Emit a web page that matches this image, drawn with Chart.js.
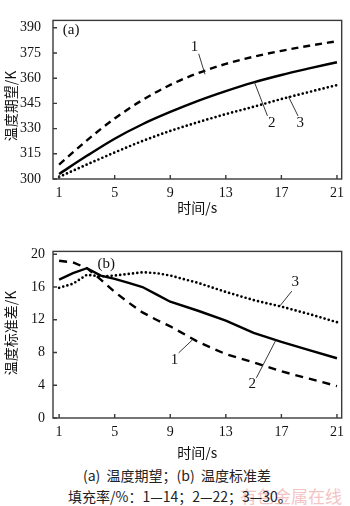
<!DOCTYPE html>
<html><head><meta charset="utf-8">
<script src="https://cdn.jsdelivr.net/npm/chart.js@4/dist/chart.umd.min.js"></script>
<style>
html,body{margin:0;padding:0;background:#fff;width:350px;height:506px;overflow:hidden;position:relative}
canvas{position:absolute;left:0}
.cap{position:absolute;left:0;width:350px;white-space:pre;font-family:"Noto Sans CJK SC",sans-serif;font-size:14px;color:#222;line-height:16px}
.wm{position:absolute;white-space:pre;font-family:"Noto Sans CJK SC",sans-serif;font-size:17px;color:#f3c4c4;line-height:18px}
</style></head>
<body>
<canvas id="ca" width="350" height="218" style="top:0;width:350px;height:218px"></canvas>
<canvas id="cb" width="350" height="225" style="top:235px;width:350px;height:225px"></canvas>
<div class="wm" style="left:240px;top:487px">有色金属在线</div>
<div class="cap" style="left:83px;top:467px;width:auto">(a)  温度期望；(b)  温度标准差</div>
<div class="cap" style="left:68px;top:488px;width:auto">填充率/%：1—14；2—22；3—30。</div>
<script>
// ---- data ----
const timeA = [1, 3, 5, 7, 9, 11, 13, 15, 17, 19, 21];
const meanFill14 = [308.6, 323.0, 336.0, 347.0, 356.0, 363.0, 368.5, 372.8, 376.3, 379.3, 382.0];
const meanFill22 = [303.0, 313.8, 324.0, 332.6, 339.9, 346.5, 352.3, 357.5, 361.9, 365.8, 369.5];
const meanFill30 = [301.2, 308.6, 315.8, 322.6, 328.6, 333.8, 338.6, 343.0, 347.6, 351.8, 355.9];

const timeB = [1, 2, 3, 4, 5, 6, 7, 8, 9, 11, 13, 15, 17, 19, 21];
const sdFill14 = [19.2, 19.0, 18.3, 16.9, 15.4, 14.1, 12.9, 12.0, 11.2, 9.3, 7.8, 6.8, 5.7, 4.8, 3.9];
const sdFill22 = [16.9, 17.7, 18.3, 17.4, 17.0, 16.5, 16.0, 15.1, 14.2, 13.1, 11.9, 10.4, 9.3, 8.3, 7.3];
const sdFill30 = [15.9, 16.4, 17.5, 17.3, 17.4, 17.6, 17.8, 17.7, 17.4, 16.5, 15.4, 14.4, 13.6, 12.7, 11.7];

const xTicks = [1, 5, 9, 13, 17, 21];
const yTicksA = [300, 315, 330, 345, 360, 375, 390];
const yTicksB = [0, 4, 8, 12, 16, 20];
const xTitle = '时间/s';
const yTitleA = '温度期望/K';
const yTitleB = '温度标准差/K';

// curve labels with leader lines (data coordinates)
const notesA = [
  {text: '1', at: [10.75, 378.5], from: [11.05, 374.5], to: [11.5, 362.3]},
  {text: '2', at: [16.3, 333.5], from: [16.0, 337.5], to: [15.05, 357.8]},
  {text: '3', at: [18.35, 333.5], from: [18.2, 337.5], to: [17.5, 349.2]},
  {text: '(a)', at: [1.86, 388.5]}
];
const notesB = [
  {text: '3', at: [18.0, 16.6], from: [17.75, 15.5], to: [16.9, 13.7]},
  {text: '1', at: [9.3, 7.1], from: [9.6, 7.95], to: [10.6, 9.55]},
  {text: '2', at: [14.9, 4.1], from: [15.2, 4.9], to: [16.6, 9.5]},
  {text: '(b)', at: [4.4, 18.8]}
];

const serif = '"Liberation Serif","DejaVu Serif",serif';
const cjk = '"Noto Sans CJK SC",sans-serif';

const framePlugin = {
  id: 'frame',
  afterDraw(chart, args, opts) {
    const {ctx, chartArea: a, scales} = chart;
    ctx.save();
    ctx.strokeStyle = '#3a3a3a';
    ctx.lineWidth = 1.4;
    ctx.strokeRect(a.left, a.top, a.right - a.left, a.bottom - a.top);
    ctx.beginPath();
    scales.x.ticks.forEach(t => {
      const px = scales.x.getPixelForValue(t.value);
      ctx.moveTo(px, a.bottom); ctx.lineTo(px, a.bottom - 4);
    });
    scales.y.ticks.forEach(t => {
      const py = scales.y.getPixelForValue(t.value);
      ctx.moveTo(a.left, py); ctx.lineTo(a.left + 4, py);
    });
    ctx.stroke();
    // notes
    ctx.fillStyle = '#111';
    ctx.strokeStyle = '#222';
    ctx.lineWidth = 0.9;
    ctx.textAlign = 'center';
    ctx.textBaseline = 'middle';
    (opts.notes || []).forEach(n => {
      ctx.font = '15px ' + serif;
      ctx.fillText(n.text, scales.x.getPixelForValue(n.at[0]), scales.y.getPixelForValue(n.at[1]));
      if (n.from) {
        ctx.beginPath();
        ctx.moveTo(scales.x.getPixelForValue(n.from[0]), scales.y.getPixelForValue(n.from[1]));
        ctx.lineTo(scales.x.getPixelForValue(n.to[0]), scales.y.getPixelForValue(n.to[1]));
        ctx.stroke();
      }
    });
    // side title
    if (opts.yTitle) {
      ctx.save();
      ctx.translate(opts.yTitleX, opts.yTitleY);
      ctx.rotate(-Math.PI / 2);
      ctx.font = '14px ' + cjk;
      ctx.fillStyle = '#111';
      ctx.fillText(opts.yTitle, 0, 0);
      ctx.restore();
    }
    ctx.restore();
  }
};

function ds(label, xs, ys, style) {
  const base = {
    label, data: xs.map((x, i) => ({x, y: ys[i]})),
    borderColor: '#000', pointRadius: 0, fill: false, borderWidth: 2.4
  };
  return Object.assign(base, style);
}

function makeChart(id, cfg) {
  return new Chart(document.getElementById(id), {
    type: 'line',
    data: {datasets: cfg.datasets},
    options: {
      responsive: false, animation: false, devicePixelRatio: 1,
      layout: {padding: {left: 0, right: 2.5, top: cfg.padTop, bottom: 0}},
      plugins: {legend: {display: false}, tooltip: {enabled: false},
        frame: {notes: cfg.notes, yTitle: cfg.yTitle, yTitleX: 11, yTitleY: cfg.yTitleY}},
      scales: {
        x: {
          type: 'linear', min: 0.56, max: 21.34,
          grid: {display: false, drawTicks: false, tickLength: 0}, border: {display: false},
          afterBuildTicks: s => { s.ticks = xTicks.map(v => ({value: v})); },
          afterFit: s => { s.height = cfg.xHeight; },
          ticks: {font: {family: serif, size: 14}, color: '#111', padding: cfg.xPad, maxRotation: 0, autoSkip: false},
          title: {display: true, text: xTitle, font: {family: cjk, size: 14, lineHeight: 1}, color: '#111', padding: {top: 0, bottom: cfg.titlePad}}
        },
        y: {
          type: 'linear', min: cfg.yMin, max: cfg.yMax,
          grid: {display: false, drawTicks: false, tickLength: 0}, border: {display: false},
          afterBuildTicks: s => { s.ticks = cfg.yTicks.map(v => ({value: v})); },
          afterFit: s => { s.width = 53; },
          ticks: {font: {family: serif, size: 14}, color: '#111', padding: cfg.yPad, autoSkip: false}
        }
      }
    },
    plugins: [framePlugin]
  });
}

makeChart('ca', {
  datasets: [
    ds('1', timeA, meanFill14, {borderDash: [7, 5], tension: 0.4, cubicInterpolationMode: 'monotone'}),
    ds('2', timeA, meanFill22, {tension: 0.4, cubicInterpolationMode: 'monotone'}),
    ds('3', timeA, meanFill30, {borderDash: [0, 4.3], borderCapStyle: 'round', borderWidth: 2.7, tension: 0.4, cubicInterpolationMode: 'monotone'})
  ],
  notes: notesA, yTitle: yTitleA, yTitleY: 106,
  padTop: 1, xHeight: 39, xPad: 6, titlePad: 3,
  yMin: 300, yMax: 394.4, yTicks: yTicksA, yPad: 12
});

makeChart('cb', {
  datasets: [
    ds('1', timeB, sdFill14, {borderDash: [8, 6], tension: 0}),
    ds('2', timeB, sdFill22, {tension: 0}),
    ds('3', timeB, sdFill30, {borderDash: [0, 4.3], borderCapStyle: 'round', borderWidth: 2.7, tension: 0})
  ],
  notes: notesB, yTitle: yTitleB, yTitleY: 98,
  padTop: 4.3, xHeight: 42, xPad: 6, titlePad: 0,
  yMin: 0, yMax: 20.35, yTicks: yTicksB, yPad: 8
});
</script>
</body></html>
